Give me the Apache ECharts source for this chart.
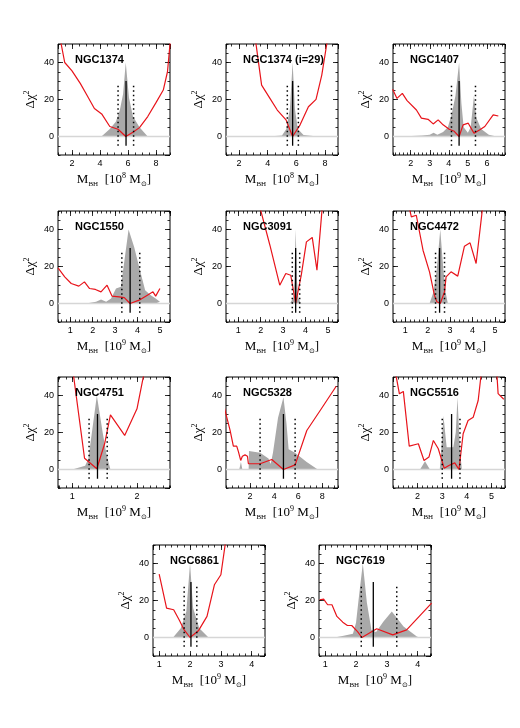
<!DOCTYPE html>
<html>
<head>
<meta charset="utf-8">
<script src="https://cdn.jsdelivr.net/npm/echarts@6/dist/echarts.min.js"></script>
<style>
  html, body { margin: 0; padding: 0; background: #fff; }
  #main { width: 520px; height: 728px; }
</style>
</head>
<body>
<div id="main"></div>
<script>
// Δχ² curves (red), pairs of [M_BH, Δχ²]
const chi1374 = [[1.1,55],[1.48,40],[2.0,35.5],[2.59,28.7],[3.06,22.4],[3.6,15.1],[4.12,12.2],[4.7,5.4],[5.29,3.9],[5.84,0],[6.35,2.3],[6.82,4.8],[7.41,10.8],[8.0,18.3],[8.52,25.1],[8.82,35],[9.05,54]];
const chi1374i = [[3.12,54],[3.58,27.8],[4.16,20.6],[4.67,14.3],[5.28,9],[5.74,0],[6.26,6.3],[6.84,16.1],[7.37,20.1],[7.77,33.2],[8.2,54]];
const chi1407 = [[1.05,25.5],[1.28,20.6],[1.56,23.3],[1.81,19.4],[2.3,14.3],[2.56,9.9],[2.91,9.3],[3.18,6.8],[3.44,9],[3.7,6.3],[4.02,3.9],[4.26,3],[4.54,0],[4.75,6.3],[5.02,7.2],[5.32,1.8],[5.63,3.6],[5.89,5.4],[6.33,11.7],[6.6,11.1]];
const chi1550 = [[0.45,19.2],[0.75,14.4],[1.04,10.8],[1.38,9.4],[1.63,11.7],[1.86,8.1],[2.12,7.6],[2.37,6.3],[2.64,9.9],[2.86,4],[3.18,3.6],[3.41,3.2],[3.67,0],[4.07,1.8],[4.44,4.5],[4.69,6.3],[4.81,4],[5.0,8.1]];
const chi3091 = [[1.92,54],[2.41,31.5],[2.85,9.9],[3.12,16.2],[3.34,15.3],[3.56,0],[3.81,15.3],[4.04,33.3],[4.3,35.7],[4.51,18],[4.76,54]];
const chi4472 = [[1.17,52],[1.27,46.8],[1.49,47.7],[1.79,28.8],[2.08,17.1],[2.3,4.5],[2.41,0.9],[2.56,0],[2.75,6.3],[2.82,14.4],[3.04,17.1],[3.34,14.8],[3.64,31],[3.89,32.8],[4.16,21.6],[4.47,54]];
const chi4751 = [[1.0,56],[1.19,6.1],[1.38,0.4],[1.5,13.9],[1.59,29.5],[1.81,18.4],[2.0,32.8],[2.12,54]];
const chi5328 = [[-0.13,33.2],[0.34,21.1],[0.61,12.6],[0.89,12.6],[1.03,9.7],[1.22,4.9],[1.36,7.2],[1.58,7.9],[1.78,7.2],[1.86,3.1],[2.83,3.1],[3.8,5.4],[4.77,0],[5.74,2.5],[6.71,21.1],[7.82,31.9],[9.15,45]];
const chi5516 = [[1.05,56],[1.26,40.9],[1.42,42.2],[1.66,12.6],[2.03,13.9],[2.26,4.9],[2.46,6.7],[2.64,15.7],[2.84,11.2],[3.08,0.7],[3.27,2.2],[3.51,3.6],[3.68,0],[3.85,19.3],[4.05,26.5],[4.26,28.3],[4.46,37.3],[4.62,56],[5.2,56],[5.27,41],[5.5,38]];
const chi6861 = [[1.0,34.2],[1.24,15.9],[1.47,15],[1.65,9.5],[1.81,4.1],[2.0,0],[2.27,3.6],[2.55,11.4],[2.79,28.5],[3.0,33.9],[3.18,55]];
const chi7619 = [[0.82,20.4],[0.95,20.7],[1.08,17.7],[1.22,17.7],[1.38,11.4],[1.57,8.3],[1.72,6.5],[1.86,6.5],[2.05,3.2],[2.19,0],[2.67,4.7],[3.19,1.4],[3.64,4.1],[4.45,18.6]];

// grey distributions, [M_BH, height]
const hist1374 = [[4.1,0],[4.7,4],[5.13,8],[5.41,14],[5.65,23],[5.84,40],[6.07,21],[6.35,11],[6.82,5],[7.41,0]];
const hist1374i = [[4.0,0],[5.0,0.5],[5.3,4],[5.55,15],[5.74,40],[5.9,15],[6.1,4],[6.5,0.8],[7.5,0]];
const hist1407 = [[1.5,0],[2.6,0.5],[3.0,1],[3.2,2],[3.4,1],[3.7,2.5],[3.95,5],[4.15,12],[4.35,22],[4.54,40],[4.66,18],[4.78,5],[5.0,2],[5.15,5],[5.32,22],[5.45,10],[5.7,4],[6.1,1],[6.5,0]];
const hist1550 = [[1.7,0],[2.15,1],[2.37,2.2],[2.6,1],[2.82,2.7],[3.04,8.1],[3.26,9],[3.6,40],[3.85,30.6],[4.07,19.8],[4.34,7.2],[4.59,4.5],[4.81,2.7],[5.0,1],[5.05,0]];
const hist3091 = [[3.3,0],[3.45,3],[3.5,12],[3.56,40],[3.62,12],[3.68,3],[3.8,0]];
const hist4472 = [[2.08,0],[2.25,6],[2.4,18],[2.56,40],[2.7,18],[2.8,6],[2.9,0]];
const hist4751 = [[1.0,0],[1.2,2],[1.25,6],[1.38,40],[1.47,20],[1.53,8],[1.59,0]];
const hist5328 = [[1.1,0],[1.24,4],[1.36,0],[1.88,0],[1.91,10],[2.83,9],[3.53,6],[3.71,3],[3.9,9],[4.32,28],[4.77,39],[5.02,25],[5.2,11],[5.73,9],[6.7,4],[7.62,0]];
const hist5516 = [[2.1,0],[2.3,4.5],[2.5,0],[2.9,0],[2.95,8],[3.05,29],[3.18,12],[3.45,12],[3.55,20],[3.62,39],[3.72,10],[3.8,0]];
const hist6861 = [[1.45,0],[1.7,5],[1.88,14],[2.0,40],[2.1,16],[2.3,5],[2.6,0]];
const hist7619 = [[1.3,0],[1.6,1],[1.9,2],[2.0,8],[2.08,20],[2.22,40],[2.35,19],[2.5,4],[2.65,3],[2.89,8.6],[3.16,14],[3.54,6],[3.97,0.5],[4.05,0]];

// best fit, lower and upper bound
const fit1374 = [5.86, 5.29, 6.40];
const fit1374i = [5.74, 5.37, 6.14];
const fit1407 = [4.54, 4.14, 5.40];
const fit1550 = [3.67, 3.30, 4.10];
const fit3091 = [3.56, 3.41, 3.74];
const fit4472 = [2.53, 2.35, 2.75];
const fit4751 = [1.39, 1.26, 1.54];
const fit5328 = [4.77, 2.83, 5.74];
const fit5516 = [3.38, 3.00, 3.72];
const fit6861 = [2.03, 1.81, 2.22];
const fit7619 = [2.56, 2.17, 3.32];

const yRange = [-10, 50];

const panels = [
  {title:'NGC1374', exp:'8', chi:chi1374, hist:hist1374, fit:fit1374, x:[1,9], major:2, minor:0.5, left:58, top:44},
  {title:'NGC1374 (i=29)', exp:'8', chi:chi1374i, hist:hist1374i, fit:fit1374i, x:[1.1,8.9], major:2, minor:0.5, left:226, top:44},
  {title:'NGC1407', exp:'9', chi:chi1407, hist:hist1407, fit:fit1407, x:[1.07,6.95], major:1, minor:0.2, left:393, top:44},
  {title:'NGC1550', exp:'9', chi:chi1550, hist:hist1550, fit:fit1550, x:[0.45,5.45], major:1, minor:0.2, left:58, top:211},
  {title:'NGC3091', exp:'9', chi:chi3091, hist:hist3091, fit:fit3091, x:[0.45,5.45], major:1, minor:0.2, left:226, top:211},
  {title:'NGC4472', exp:'9', chi:chi4472, hist:hist4472, fit:fit4472, x:[0.45,5.45], major:1, minor:0.2, left:393, top:211},
  {title:'NGC4751', exp:'9', chi:chi4751, hist:hist4751, fit:fit4751, x:[0.78,2.51], major:1, minor:0.1, left:58, top:377},
  {title:'NGC5328', exp:'9', chi:chi5328, hist:hist5328, fit:fit5328, x:[0,9.3], major:2, minor:0.5, left:226, top:377},
  {title:'NGC5516', exp:'9', chi:chi5516, hist:hist5516, fit:fit5516, x:[1,5.55], major:1, minor:0.2, left:393, top:377},
  {title:'NGC6861', exp:'9', chi:chi6861, hist:hist6861, fit:fit6861, x:[0.8,4.43], major:1, minor:0.2, left:153, top:545},
  {title:'NGC7619', exp:'9', chi:chi7619, hist:hist7619, fit:fit7619, x:[0.8,4.43], major:1, minor:0.2, left:319, top:545}
];

const W = 112, H = 111;
const option = { animation: false, grid: [], xAxis: [], yAxis: [], title: [], series: [] };

const serif = 'Liberation Serif';
const labelStyle = { fontSize: 9, color: '#000', fontFamily: 'Liberation Sans' };

function axis(i, pos, range, step, len, label) {
  return {
    type: 'value', gridIndex: i, position: pos, min: range[0], max: range[1],
    minInterval: step, maxInterval: step,
    axisLine: { show: false, onZero: false },
    splitLine: { show: false },
    axisTick: { inside: true, length: len, lineStyle: { color: '#000', width: 0.8 } },
    axisLabel: Object.assign({ show: label, showMinLabel: false, showMaxLabel: false, margin: 4 }, labelStyle)
  };
}

panels.forEach((p, i) => {
  option.grid.push({ left: p.left, top: p.top, width: W, height: H, show: true, borderColor: '#000', borderWidth: 1 });

  const xb = axis(i, 'bottom', p.x, p.major, 5, true);
  xb.name = '{m|M}{s|BH}{m|  [10}{p|' + p.exp + '}{m| M}{s|⊙}{m|]}';
  xb.nameLocation = 'middle';
  xb.nameGap = 17;
  xb.nameTextStyle = {
    rich: {
      m: { fontFamily: serif, fontSize: 13, color: '#000', lineHeight: 16 },
      s: { fontFamily: serif, fontSize: 7, color: '#000', lineHeight: 9, verticalAlign: 'bottom' },
      p: { fontFamily: serif, fontSize: 8, color: '#000', lineHeight: 9, verticalAlign: 'top' }
    }
  };
  option.xAxis.push(xb, axis(i, 'bottom', p.x, p.minor, 2.5, false),
                    axis(i, 'top', p.x, p.major, 5, false), axis(i, 'top', p.x, p.minor, 2.5, false));

  const yl = axis(i, 'left', yRange, 20, 5, true);
  yl.name = '{m|Δχ}{p|2}';
  yl.nameLocation = 'middle';
  yl.nameGap = 19;
  yl.nameRotate = 90;
  yl.nameTextStyle = {
    rich: {
      m: { fontFamily: serif, fontSize: 13, color: '#000', lineHeight: 16 },
      p: { fontFamily: serif, fontSize: 8, color: '#000', lineHeight: 9, verticalAlign: 'top' }
    }
  };
  option.yAxis.push(yl, axis(i, 'left', yRange, 5, 2.5, false),
                    axis(i, 'right', yRange, 20, 5, false), axis(i, 'right', yRange, 5, 2.5, false));

  option.title.push({
    text: p.title, left: p.left + 17, top: p.top + 10, padding: 0,
    textStyle: { fontSize: 11, fontWeight: 'bold', fontFamily: 'Liberation Sans', color: '#000' }
  });

  const base = { type: 'line', xAxisIndex: i * 4, yAxisIndex: i * 4, showSymbol: false, symbol: 'none', silent: true };
  option.series.push(
    Object.assign({}, base, { data: [[p.x[0], 0], [p.x[1], 0]], lineStyle: { color: '#d6d6d6', width: 1.5 } }),
    Object.assign({}, base, { data: p.hist, lineStyle: { width: 0 }, areaStyle: { color: '#a9a9a9', opacity: 1 } }),
    Object.assign({}, base, { data: p.chi, lineStyle: { color: '#e8141b', width: 1.2 } }),
    Object.assign({}, base, { data: [[p.fit[1], -5], [p.fit[1], 28]], lineStyle: { color: '#000', width: 1.5, type: [1.5, 3] } }),
    Object.assign({}, base, { data: [[p.fit[2], -5], [p.fit[2], 28]], lineStyle: { color: '#000', width: 1.5, type: [1.5, 3] } }),
    Object.assign({}, base, { data: [[p.fit[0], -5], [p.fit[0], 30]], lineStyle: { color: '#000', width: 1.3 } })
  );
});

const chart = echarts.init(document.getElementById('main'));
chart.setOption(option);
window.addEventListener('resize', function () { chart.resize(); });
</script>
</body>
</html>
